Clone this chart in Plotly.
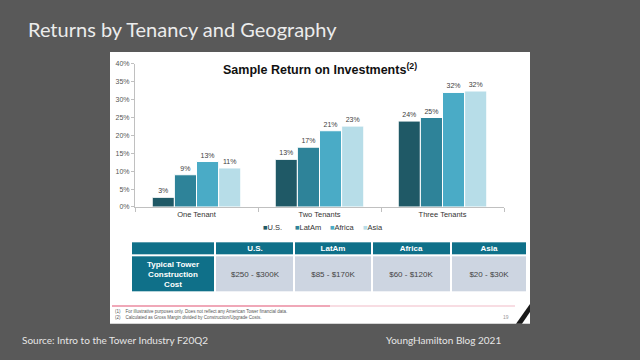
import plotly.graph_objects as go

# ---- data ----
categories = ["One Tenant", "Two Tenants", "Three Tenants"]
series_names = ["U.S.", "LatAm", "Africa", "Asia"]
us_vals = [2.7, 13.3, 24.0]
latam_vals = [9.0, 16.7, 25.0]
africa_vals = [12.7, 21.3, 32.0]
asia_vals = [10.9, 22.6, 32.4]
y_ticks = [0, 5, 10, 15, 20, 25, 30, 35, 40]
y_tick_labels = ["%d%%" % v for v in y_ticks]

table_regions = ["U.S.", "LatAm", "Africa", "Asia"]
table_row_label = "Typical Tower<br>Construction<br>Cost"
table_costs = ["$250 - $300K", "$85 - $170K", "$60 - $120K", "$20 - $30K"]

# ---- styling ----
colors = ["#1f5966", "#2e8399", "#4aabc6", "#b7dde8"]
table_col_widths = [84, 78, 78, 78, 76]
table_row_heights = [36, 14]  # body (bottom), header (top)
teal = "#0f7089"
light = "#cdd5e1"

W, H = 640, 360
def px(x):
    return x / W
def py(y):
    return 1 - y / H

fig = go.Figure()
for name, vals, col in zip(series_names, [us_vals, latam_vals, africa_vals, asia_vals], colors):
    fig.add_trace(go.Bar(
        x=categories, y=vals, name=name, showlegend=False,
        marker=dict(color=col, line=dict(color="white", width=1)),
        texttemplate="%{y:.0f}%", textposition="outside",
        textfont=dict(size=7, color="#404040", family="Liberation Sans"),
        cliponaxis=False,
    ))

# ---- table as a heatmap with non-uniform cells ----
x_edges = [0]
for w in table_col_widths:
    x_edges.append(x_edges[-1] + w)
y_edges = [0]
for h in table_row_heights:
    y_edges.append(y_edges[-1] + h)

header_text = [" "] + ["<b>%s</b>" % r for r in table_regions]
body_text = ["<b>%s</b>" % table_row_label] + list(table_costs)
z = [[0] + [1] * len(table_costs), [0] * (len(table_regions) + 1)]
fig.add_trace(go.Heatmap(
    x=x_edges, y=y_edges, z=z, text=[body_text, header_text],
    texttemplate="%{text}", textfont=dict(size=8, family="Liberation Sans"),
    colorscale=[[0, teal], [1, light]], zmin=0, zmax=1, showscale=False,
    xgap=2, ygap=2, hoverinfo="skip", xaxis="x2", yaxis="y2",
))

shapes = [
    dict(type="rect", xref="paper", yref="paper", x0=px(110), x1=px(530), y0=py(326), y1=py(49),
         fillcolor="white", line=dict(width=0), layer="below"),
    dict(type="line", xref="paper", yref="paper", x0=px(112), x1=px(330), y0=py(308), y1=py(308),
         line=dict(color="#f0a8b8", width=2)),
    dict(type="line", xref="paper", yref="paper", x0=px(330), x1=px(515), y0=py(308), y1=py(308),
         line=dict(color="#f8dde3", width=2)),
    dict(type="path", xref="paper", yref="paper",
         path="M %f,%f L %f,%f L %f,%f L %f,%f Z" % (px(516), py(326), px(530), py(306), px(530), py(314), px(522), py(326)),
         fillcolor="#1a1a1a", line=dict(width=0)),
]

annotations = [
    dict(text="Returns by Tenancy and Geography", x=px(26), y=py(26), xref="paper", yref="paper",
         xanchor="left", yanchor="middle", showarrow=False,
         font=dict(family="Lato", size=20, color="#ececec")),
    dict(text="<b>Sample Return on Investments<sup>(2)</sup></b>", x=px(320), y=py(66), xref="paper", yref="paper",
         xanchor="center", yanchor="middle", showarrow=False,
         font=dict(family="Liberation Sans", size=12.5, color="#111")),
    dict(text="(1)    For illustrative purposes only. Does not reflect any American Tower financial data.<br>"
              "(2)    Calculated as Gross Margin divided by Construction/Upgrade Costs.",
         x=px(113), y=py(316.5), xref="paper", yref="paper", xanchor="left", yanchor="middle",
         showarrow=False, align="left", font=dict(family="Liberation Sans", size=4.5, color="#555")),
    dict(text="19", x=px(506), y=py(319), xref="paper", yref="paper", xanchor="center", yanchor="middle",
         showarrow=False, font=dict(family="Liberation Sans", size=5, color="#999")),
    dict(text="Source: Intro to the Tower Industry F20Q2", x=px(20), y=py(343), xref="paper", yref="paper",
         xanchor="left", yanchor="middle", showarrow=False,
         font=dict(family="Lato", size=10, color="#e6e6e6")),
    dict(text="YoungHamilton Blog 2021", x=px(503), y=py(343), xref="paper", yref="paper",
         xanchor="right", yanchor="middle", showarrow=False,
         font=dict(family="Lato", size=10, color="#e6e6e6")),
]

# compact legend (marker square + label)
legend_x = [261, 293, 328, 361]
for name, col, lx in zip(series_names, colors, legend_x):
    annotations.append(dict(
        text="<span style='color:%s'>■</span>%s" % (col, name), x=px(lx), y=py(228),
        xref="paper", yref="paper", xanchor="left", yanchor="middle", showarrow=False,
        font=dict(family="Liberation Sans", size=7.5, color="#333")))

fig.update_layout(
    width=W, height=H,
    margin=dict(l=0, r=0, t=0, b=0),
    paper_bgcolor="#595959",
    plot_bgcolor="rgba(0,0,0,0)",
    barmode="group", bargap=0.28, bargroupgap=0.0,
    font=dict(family="Liberation Sans", color="#333"),
    showlegend=False,
    xaxis=dict(domain=[px(135), px(504)], showline=True, linecolor="#c0c0c0", linewidth=1,
               ticks="outside", tickson="boundaries", ticklen=4, tickcolor="#c0c0c0",
               tickfont=dict(size=7.5, color="#333"), showgrid=False),
    yaxis=dict(domain=[py(207), py(61)], range=[0, 40], tickvals=y_ticks, ticktext=y_tick_labels,
               showline=True, linecolor="#c0c0c0", linewidth=1, ticks="outside", ticklen=3,
               tickcolor="#c0c0c0", tickfont=dict(size=7, color="#555"), showgrid=False, zeroline=False),
    xaxis2=dict(domain=[px(131), px(527)], range=[0, sum(table_col_widths)], visible=False, anchor="y2"),
    yaxis2=dict(domain=[py(294), py(242)], range=[0, sum(table_row_heights)], visible=False, anchor="x2"),
    shapes=shapes, annotations=annotations,
)

fig.write_html("out.html", config={"displayModeBar": False},
               post_script="document.body.style.margin='0px';")
